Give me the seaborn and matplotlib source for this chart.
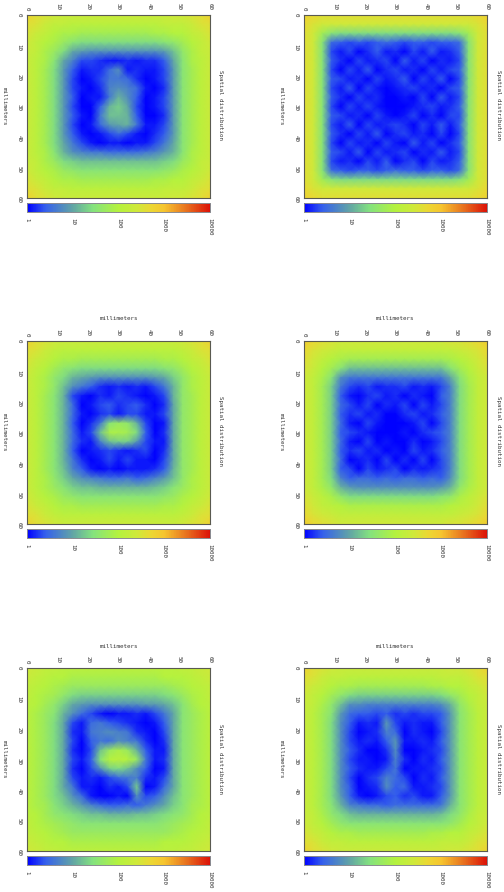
# Six spatial distribution maps, page turned a quarter turn like the scanned plot

import numpy as np
import matplotlib
matplotlib.use('Agg')
import matplotlib.pyplot as plt
from matplotlib.colors import LinearSegmentedColormap
import seaborn as sns

panel_wide = [
    [28,27,26,26,26,26,26,26,26,26,26,26,26,26,26,26,26,26,26,27,28],
    [27,25,24,24,24,24,24,24,24,24,24,24,24,24,24,24,24,24,24,25,27],
    [26,24,18,15,14,14,14,14,14,14,14,14,14,14,14,14,14,15,18,24,26],
    [26,24,15,5,4,3,4,3,4,5,4,3,4,4,3,4,4,5,15,24,26],
    [26,24,15,3,1,3,0,2,4,1,2,0,3,1,4,1,2,4,15,24,26],
    [26,24,15,4,2,0,3,1,2,3,0,4,1,3,0,2,1,3,15,24,26],
    [26,24,15,3,0,3,1,4,0,2,3,1,2,0,3,1,3,4,15,24,26],
    [26,24,15,4,3,1,2,0,3,1,2,4,0,3,1,4,0,3,15,24,26],
    [26,24,15,3,1,4,0,3,1,0,1,2,3,1,2,0,3,4,15,24,26],
    [26,24,15,4,2,0,3,1,2,0,0,1,0,3,0,4,1,3,15,24,26],
    [26,24,15,3,0,3,1,3,1,0,0,0,1,2,3,1,2,4,15,24,26],
    [26,24,15,4,3,1,2,0,3,1,0,1,3,0,2,0,3,3,15,24,26],
    [26,24,15,3,1,4,0,3,1,2,3,2,0,3,1,4,1,4,15,24,26],
    [26,24,15,4,2,0,3,1,4,0,2,3,1,2,0,3,0,3,15,24,26],
    [26,24,15,3,0,3,1,2,0,3,1,0,4,1,3,0,2,4,15,24,26],
    [26,24,15,4,3,1,4,0,3,1,2,3,0,2,1,4,1,3,15,24,26],
    [26,24,15,3,1,2,0,3,1,4,0,2,3,0,3,1,2,4,15,24,26],
    [26,24,15,5,4,3,4,4,3,4,5,4,4,3,4,4,3,5,15,24,26],
    [26,24,18,15,14,14,14,14,14,14,14,14,14,14,14,14,14,15,18,24,26],
    [27,25,24,24,24,24,24,24,24,24,24,24,24,24,24,24,24,24,24,25,27],
    [28,27,26,26,26,26,26,26,26,26,26,26,26,26,26,26,26,26,26,27,28],
]
panel_triangle = [
    [28,26,25,24,23,23,23,23,23,23,23,23,23,23,23,23,24,24,25,26,28],
    [26,25,23,22,22,21,21,21,21,21,21,21,21,21,21,22,22,22,23,25,26],
    [25,23,22,20,19,19,18,18,18,18,18,18,18,18,19,19,20,20,22,23,25],
    [24,22,20,19,17,15,14,14,14,14,14,14,14,14,14,15,16,18,20,22,24],
    [23,22,19,17,14,10,9,8,8,8,8,8,8,8,8,9,12,16,19,22,23],
    [23,21,19,15,10,7,3,3,2,1,1,2,1,2,2,4,10,15,19,21,23],
    [23,21,18,14,9,4,1,2,2,5,8,1,2,1,1,3,9,15,18,21,23],
    [23,21,18,14,9,3,0,1,3,6,6,5,2,0,1,3,9,15,18,21,23],
    [23,21,18,14,9,3,1,0,2,7,8,7,5,1,0,2,9,15,18,21,23],
    [23,21,18,14,9,4,0,1,1,6,11,8,4,0,1,3,9,15,18,21,23],
    [23,21,18,14,9,3,0,0,4,11,13,10,3,0,1,3,9,15,18,21,23],
    [23,21,18,14,9,4,1,0,6,12,12,11,4,0,0,2,9,15,18,21,23],
    [23,21,18,14,9,3,0,1,5,9,10,11,6,1,1,3,9,15,18,21,23],
    [23,21,18,14,9,4,1,0,1,3,5,3,1,0,2,4,9,15,18,21,23],
    [23,21,18,14,10,6,3,1,0,1,1,0,1,1,3,6,10,15,18,21,23],
    [23,21,19,15,11,8,7,6,6,5,5,5,5,6,7,9,11,15,19,21,23],
    [23,22,19,17,14,13,12,12,12,12,12,12,12,12,12,13,14,17,19,22,23],
    [24,22,20,19,17,16,15,15,15,15,15,15,15,15,15,16,17,19,20,22,24],
    [25,23,22,20,19,19,18,18,18,18,18,18,18,18,19,19,20,20,22,23,25],
    [26,25,23,22,22,21,21,21,21,21,21,21,21,21,21,22,22,22,23,25,26],
    [28,26,25,24,23,23,23,23,23,23,23,23,23,23,23,23,24,24,25,26,28],
]
panel_dense = [
    [29,27,26,25,24,24,24,24,24,24,24,24,24,24,24,24,25,25,26,27,29],
    [27,25,24,23,22,22,22,22,22,22,22,22,22,22,22,22,22,23,24,25,27],
    [26,24,22,20,19,18,18,18,18,18,18,18,18,18,18,18,19,20,22,24,26],
    [25,23,20,18,15,12,12,12,12,12,12,12,12,12,12,12,15,18,20,23,25],
    [24,22,19,15,8,6,6,6,6,6,6,6,6,6,6,6,10,15,19,22,24],
    [24,22,18,13,6,3,2,3,1,2,2,3,1,2,1,3,7,14,18,22,24],
    [24,22,18,13,4,1,0,2,3,1,2,0,2,1,0,4,7,14,18,22,24],
    [24,22,18,13,5,3,1,3,0,2,1,3,0,3,1,3,7,14,18,22,24],
    [24,22,18,13,4,2,3,1,2,0,0,2,3,1,2,4,7,14,18,22,24],
    [24,22,18,13,5,1,0,3,1,0,0,0,1,3,0,3,7,14,18,22,24],
    [24,22,18,13,4,3,2,1,0,0,0,1,0,2,3,4,7,14,18,22,24],
    [24,22,18,13,5,1,0,3,0,1,0,0,2,0,1,3,7,14,18,22,24],
    [24,22,18,13,4,2,3,1,2,0,1,0,3,1,2,4,7,14,18,22,24],
    [24,22,18,13,5,0,1,2,0,3,0,2,0,3,0,3,7,14,18,22,24],
    [24,22,18,13,4,3,0,3,1,2,3,0,2,1,2,3,7,14,18,22,24],
    [24,22,18,14,7,4,5,5,4,5,4,5,5,4,5,4,8,14,18,22,24],
    [24,22,19,16,11,9,8,8,8,8,8,8,8,8,8,9,11,16,19,22,24],
    [25,23,21,19,16,14,14,14,14,14,14,14,14,14,14,15,16,19,21,23,25],
    [26,24,22,21,20,19,19,19,19,19,19,19,19,19,19,19,20,21,22,24,26],
    [27,25,24,23,22,22,22,22,22,22,22,22,22,22,22,22,22,23,24,25,27],
    [29,27,26,25,24,24,24,24,24,24,24,24,24,24,24,24,25,25,26,27,29],
]
panel_hole = [
    [28,26,25,24,23,23,23,23,23,23,23,23,23,23,23,23,23,24,25,26,28],
    [26,25,23,22,21,21,21,21,21,21,21,21,21,21,21,21,21,22,23,25,26],
    [25,23,22,20,19,19,18,18,18,18,18,18,18,18,18,19,19,20,22,23,25],
    [24,22,20,18,16,15,14,14,14,14,14,14,14,14,14,15,16,18,20,22,24],
    [23,21,19,16,14,11,10,9,8,8,8,8,8,8,9,10,13,16,19,21,23],
    [23,21,19,16,12,8,6,4,2,1,2,1,2,1,3,6,11,16,19,21,23],
    [23,21,18,15,11,3,1,0,2,1,3,2,1,0,1,3,11,16,18,21,23],
    [23,21,18,15,11,5,0,1,3,4,2,3,4,2,0,2,10,16,18,21,23],
    [23,21,18,15,11,5,1,0,2,3,1,3,3,1,1,3,10,16,18,21,23],
    [23,21,18,15,11,4,0,2,6,15,17,16,11,3,0,1,10,16,18,21,23],
    [23,21,18,15,11,5,1,3,12,19,19,18,14,4,0,2,10,16,18,21,23],
    [23,21,18,15,11,5,2,1,7,12,13,13,9,3,1,1,10,16,18,21,23],
    [23,21,18,15,11,4,0,1,2,3,2,1,2,3,0,2,10,16,18,21,23],
    [23,21,18,15,11,6,2,0,1,3,1,3,1,1,0,3,10,16,18,21,23],
    [23,21,18,15,12,7,4,1,0,1,0,1,1,1,2,4,11,16,18,21,23],
    [23,21,19,16,13,10,8,7,6,5,5,6,4,5,7,9,12,16,19,21,23],
    [23,21,19,17,15,13,12,12,11,11,11,11,11,11,12,13,15,17,19,21,23],
    [24,22,20,19,17,16,15,15,15,15,15,15,15,15,15,16,17,19,20,22,24],
    [25,23,22,20,19,19,18,18,18,18,18,18,18,18,18,19,19,20,22,23,25],
    [26,25,23,22,21,21,21,21,21,21,21,21,21,21,21,21,21,22,23,25,26],
    [28,26,25,24,23,23,23,23,23,23,23,23,23,23,23,23,23,24,25,26,28],
]
panel_streak = [
    [28,26,25,24,23,23,23,23,23,23,23,23,23,23,23,23,24,24,25,26,28],
    [26,25,23,22,22,21,21,21,21,21,21,21,21,21,21,22,22,22,23,25,26],
    [25,23,22,20,19,19,18,18,18,18,18,18,18,18,19,19,20,20,22,23,25],
    [24,22,20,18,16,14,13,13,13,13,13,13,13,13,13,14,16,18,20,22,24],
    [23,22,19,16,12,8,8,7,7,7,7,7,7,7,7,8,11,16,19,22,23],
    [23,21,18,15,9,5,4,4,3,4,2,3,2,3,3,4,9,15,18,21,23],
    [23,21,18,14,8,4,1,2,1,9,3,1,2,1,1,4,9,15,18,21,23],
    [23,21,18,14,8,3,0,1,2,7,5,0,2,1,0,3,9,15,18,21,23],
    [23,21,18,14,8,3,1,2,1,4,9,1,1,2,1,4,9,15,18,21,23],
    [23,21,18,14,8,4,2,0,0,2,8,0,0,1,2,3,9,15,18,21,23],
    [23,21,18,14,8,3,1,1,0,1,7,2,0,2,1,4,9,15,18,21,23],
    [23,21,18,14,8,4,2,1,1,3,6,0,1,1,2,3,9,15,18,21,23],
    [23,21,18,14,8,3,0,2,3,7,5,3,0,2,1,4,9,15,18,21,23],
    [23,21,18,14,8,4,0,1,2,8,4,5,1,1,2,3,9,15,18,21,23],
    [23,21,18,14,9,4,1,0,1,3,4,2,3,1,1,4,9,15,18,21,23],
    [23,21,18,15,11,7,6,5,5,4,5,5,5,5,5,6,11,15,18,21,23],
    [23,22,19,16,14,12,11,11,11,11,11,11,11,11,11,12,14,16,19,22,23],
    [24,22,20,18,16,15,15,15,15,15,15,15,15,15,15,15,16,18,20,22,24],
    [25,23,22,20,19,19,18,18,18,18,18,18,18,18,19,19,20,20,22,23,25],
    [26,25,23,22,22,21,21,21,21,21,21,21,21,21,21,22,22,22,23,25,26],
    [28,26,25,24,23,23,23,23,23,23,23,23,23,23,23,23,24,24,25,26,28],
]
panel_ring = [
    [24,23,22,22,21,21,21,21,21,21,21,21,21,21,21,21,21,22,22,23,24],
    [23,22,21,20,20,19,19,19,19,19,19,19,19,19,19,20,20,20,21,22,23],
    [22,21,20,19,18,17,17,17,17,17,17,17,17,17,17,17,18,19,20,21,22],
    [22,20,19,18,16,14,13,13,13,13,13,13,13,13,13,14,15,17,19,20,22],
    [21,20,18,16,13,10,9,8,8,8,8,8,8,9,9,10,12,15,18,20,21],
    [21,19,17,15,11,8,5,3,1,0,1,1,2,1,3,6,10,15,17,19,21],
    [21,19,17,14,10,3,1,5,6,4,3,2,1,0,1,4,10,15,17,19,21],
    [21,19,17,14,10,2,1,6,7,8,7,6,2,1,0,3,10,15,17,19,21],
    [21,19,17,14,10,3,0,4,6,5,8,7,6,2,0,2,10,15,17,19,21],
    [21,19,17,14,10,2,0,3,12,17,19,17,11,4,1,1,10,15,17,19,21],
    [21,19,17,14,10,3,1,4,15,20,21,20,17,6,1,2,10,15,17,19,21],
    [21,19,17,14,10,2,0,3,8,13,14,12,8,4,0,1,10,15,17,19,21],
    [21,19,17,14,10,3,1,2,1,3,5,6,7,2,1,3,10,15,17,19,21],
    [21,19,17,14,10,6,1,1,0,2,1,3,13,0,1,5,10,15,17,19,21],
    [21,19,17,14,12,8,5,1,0,0,1,0,8,3,4,8,12,15,17,19,21],
    [21,19,18,15,13,11,9,7,5,4,4,5,4,6,8,10,13,15,18,19,21],
    [21,20,18,16,15,14,13,12,12,11,11,11,12,12,13,14,15,16,18,20,21],
    [22,20,19,18,17,16,15,15,15,15,15,15,15,15,15,16,17,18,19,20,22],
    [22,21,20,19,18,17,17,17,17,17,17,17,17,17,17,17,18,19,20,21,22],
    [23,22,21,20,20,19,19,19,19,19,19,19,19,19,19,20,20,20,21,22,23],
    [24,23,22,22,21,21,21,21,21,21,21,21,21,21,21,21,21,22,22,23,24],
]

tick_mm = [0, 10, 20, 30, 40, 50, 60]
cbar_labels = ['1', '10', '100', '1000', '10000']

# Panel order and where each frame sits on the page (left, top in pixels)
panels = [
    (panel_triangle, 27, 15), (panel_wide, 304, 15),
    (panel_hole, 27, 341), (panel_dense, 304, 341),
    (panel_ring, 27, 668), (panel_streak, 304, 668),
]

W, H = 504, 892
SIDE = 183

sns.set_style('white')
plt.rcParams['font.family'] = ['DejaVu Sans Mono']
plt.rcParams['font.size'] = 4.2
text_col = '#333333'
frame_col = '#5a5a50'

rainbow = LinearSegmentedColormap.from_list('scan', [
    (0.00, '#0000ff'), (0.10, '#3560ec'), (0.25, '#62a5a5'), (0.36, '#84e27e'),
    (0.50, '#b4f23e'), (0.60, '#cfe93a'), (0.68, '#ecd733'), (0.75, '#f6c52f'),
    (0.87, '#e8731f'), (1.00, '#dc1208'),
])


# Axes from pixel box, y measured from the top of the page
def px_axes(fig, left, top, w, h):
    return fig.add_axes([left / W, 1 - (top + h) / H, w / W, h / H])


fig = plt.figure(figsize=(W / 100, H / 100), dpi=100)

for vals, left, top in panels:
    ax = px_axes(fig, left, top, SIDE, SIDE)
    cax = px_axes(fig, left, top + SIDE + 5, SIDE, 9)
    sns.heatmap(np.array(vals) / 10, vmin=0, vmax=4, cmap=rainbow, ax=ax, cbar_ax=cax,
                cbar_kws={'orientation': 'horizontal'}, shading='gouraud',
                xticklabels=False, yticklabels=False)

    # 21 nodes every 3 mm, so the node index runs 0 to 20
    ax.set_xlim(0, 20)
    ax.set_ylim(20, 0)
    ax.set_xticks([t / 3 for t in tick_mm], [str(t) for t in tick_mm])
    ax.set_yticks([t / 3 for t in tick_mm], [str(t) for t in tick_mm])
    ax.tick_params(direction='in', length=2.2, width=0.6, color='#222222', top=True, bottom=True,
                   left=True, right=True, labeltop=True, labelbottom=False, labelcolor=text_col)
    ax.tick_params(axis='x', pad=3.5, labelrotation=-90)
    ax.tick_params(axis='y', pad=4, labelrotation=-90)
    for s in ax.spines.values():
        s.set_visible(True)
        s.set_linewidth(0.8)
        s.set_color(frame_col)

    cb = ax.collections[0].colorbar
    cb.outline.set_visible(True)
    cb.outline.set_linewidth(0.7)
    cb.outline.set_edgecolor('#8a8a90')
    cb.set_ticks(range(5), labels=cbar_labels)
    cb.set_ticks(np.log10([m * 10 ** d for d in range(4) for m in range(2, 10)]), minor=True)
    cax.tick_params(which='both', direction='in', top=True, bottom=True, width=0.5, color='#222222',
                    labelcolor=text_col)
    cax.tick_params(which='major', length=2, pad=4, labelrotation=-90)
    cax.tick_params(which='minor', length=1)

    mid = top + SIDE / 2
    fig.text((left - 22.5) / W, 1 - mid / H, 'millimeters', rotation=-90, ha='center', va='center', color=text_col)
    fig.text((left + 194) / W, 1 - (mid - 1) / H, 'Spatial distribution', rotation=-90, ha='center',
             va='center', color=text_col)
    # the top row's upper label falls off the page in the original
    if top > 15:
        fig.text((left + SIDE / 2) / W, 1 - (top - 22) / H, 'millimeters', ha='center', va='center', color=text_col)

fig.savefig('out.png', dpi=100)
